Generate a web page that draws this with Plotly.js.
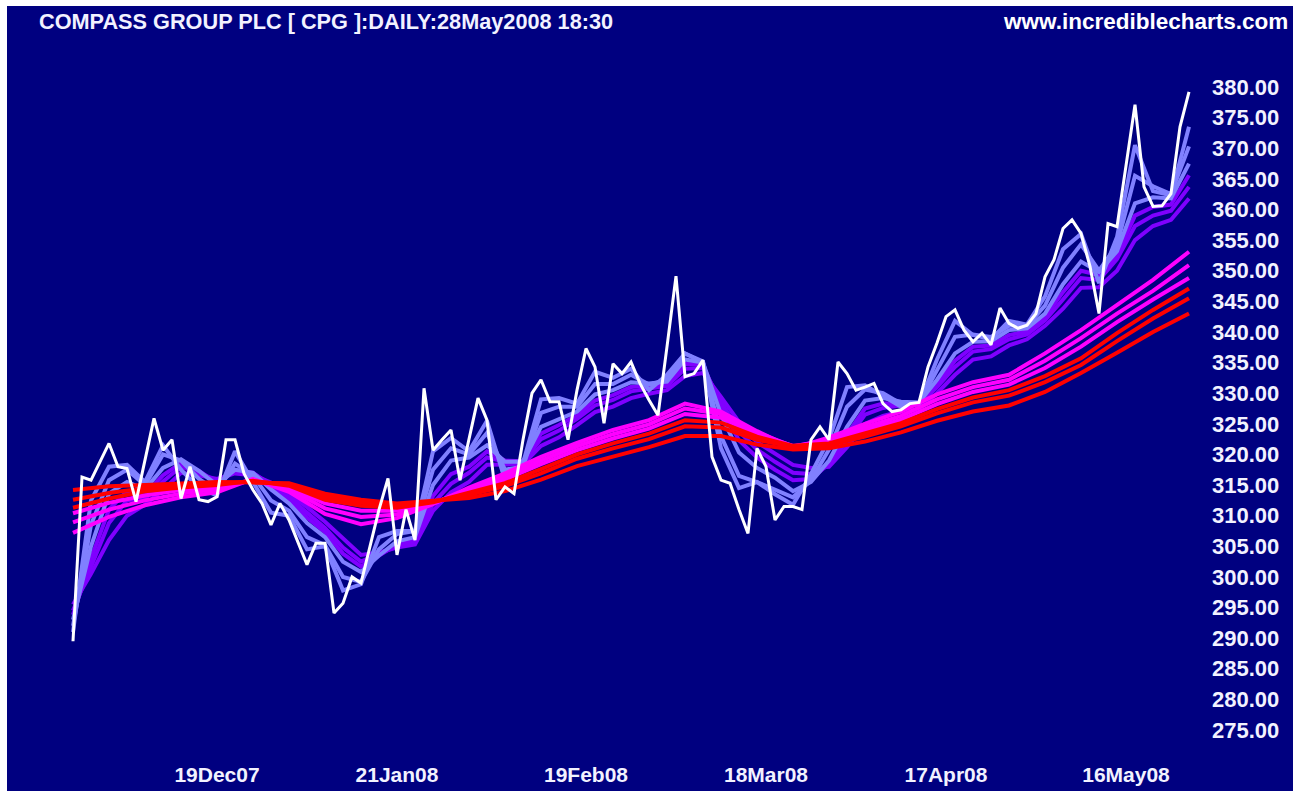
<!DOCTYPE html>
<html><head><meta charset="utf-8">
<script src="https://cdn.plot.ly/plotly-3.0.1.min.js"></script>
<style>
html,body{margin:0;padding:0;background:#ffffff;width:1293px;height:791px;overflow:hidden}
#chart{position:absolute;left:7px;top:6px;width:1286px;height:785px}
</style>
</head><body><div id="chart"></div>
<script>
// trading days shown on the chart
const dates = [
"27Nov07","28Nov07","29Nov07","30Nov07",
"03Dec07","04Dec07","05Dec07","06Dec07","07Dec07","10Dec07","11Dec07","12Dec07","13Dec07","14Dec07",
"17Dec07","18Dec07","19Dec07","20Dec07","21Dec07","24Dec07","27Dec07","28Dec07","31Dec07",
"02Jan08","03Jan08","04Jan08","07Jan08","08Jan08","09Jan08","10Jan08","11Jan08","14Jan08","15Jan08",
"16Jan08","17Jan08","18Jan08","21Jan08","22Jan08","23Jan08","24Jan08","25Jan08","28Jan08","29Jan08",
"30Jan08","31Jan08",
"01Feb08","04Feb08","05Feb08","06Feb08","07Feb08","08Feb08","11Feb08","12Feb08","13Feb08","14Feb08",
"15Feb08","18Feb08","19Feb08","20Feb08","21Feb08","22Feb08","25Feb08","26Feb08","27Feb08","28Feb08","29Feb08",
"03Mar08","04Mar08","05Mar08","06Mar08","07Mar08","10Mar08","11Mar08","12Mar08","13Mar08","14Mar08",
"17Mar08","18Mar08","19Mar08","20Mar08","25Mar08","26Mar08","27Mar08","28Mar08","31Mar08",
"01Apr08","02Apr08","03Apr08","04Apr08","07Apr08","08Apr08","09Apr08","10Apr08","11Apr08","14Apr08",
"15Apr08","16Apr08","17Apr08","18Apr08","21Apr08","22Apr08","23Apr08","24Apr08","25Apr08","28Apr08",
"29Apr08","30Apr08",
"01May08","02May08","06May08","07May08","08May08","09May08","12May08","13May08","14May08","15May08",
"16May08","19May08","20May08","21May08","22May08","23May08","27May08","28May08"
];

// closing price (white line)
const price = [
289.5,316.3,315.8,318.8,321.8,318.0,317.7,312.3,319.1,325.9,
320.7,322.4,312.8,318.0,312.6,312.3,313.1,322.4,322.4,316.9,
314.2,312.0,308.5,312.0,309.3,305.5,302.0,305.5,305.5,294.1,
295.7,300.0,299.0,305.0,311.0,316.1,303.6,311.0,306.0,330.8,
320.7,322.4,324.0,315.8,322.4,329.2,325.6,312.6,314.7,313.6,
322.4,330.0,332.2,328.6,328.6,322.4,330.5,337.3,334.3,325.1,
334.8,333.2,335.1,331.6,328.9,326.4,337.6,349.1,332.7,333.2,
335.4,319.6,315.8,315.3,311.0,307.1,321.0,318.0,309.3,311.5,
311.5,311.0,322.4,324.5,322.4,335.1,333.2,330.5,331.0,331.6,
328.3,327.0,327.3,328.3,328.5,334.3,338.2,342.5,343.6,340.3,
338.4,339.8,337.9,343.9,341.4,340.6,341.1,343.0,349.0,351.8,
356.9,358.3,356.1,350.7,343.0,357.7,357.2,367.5,377.1,363.7,
360.5,360.6,362.6,373.5,379.2
];

// days on which the short-term averages were read (every 2nd day)
const shortDays = [0,2,4,6,8,10,12,14,16,18,20,22,24,26,28,30,32,34,36,38,40,42,44,46,48,50,52,54,56,58,60,62,
                   64,66,68,70,72,74,76,78,80,82,84,86,88,90,92,94,96,98,100,102,104,106,108,110,112,114,116,118,120,122,124];
// short-term moving averages (3,5,8,10,12,15)
const ema3  = [291.0,312.5,318.0,318.3,315.5,321.5,317.5,314.5,313.3,320.5,315.5,310.5,310.0,304.5,305.0,297.8,
               298.8,306.5,307.5,307.5,320.5,322.7,320.5,325.5,315.8,318.6,329.0,329.2,328.3,333.5,332.5,334.0,
               330.5,333.0,336.5,335.0,321.0,314.5,315.5,313.5,311.8,316.8,322.5,331.0,331.3,329.5,327.8,328.2,
               335.5,341.8,339.5,338.8,341.8,341.2,345.8,353.5,356.0,348.0,355.5,370.5,363.0,362.3,373.5];
const ema5  = [292.0,308.5,315.8,317.5,315.0,320.0,319.0,316.0,314.0,318.5,316.5,312.5,310.8,306.5,305.2,300.0,
               299.2,304.5,307.0,307.5,317.5,321.0,320.0,323.5,317.5,318.0,326.8,327.8,327.8,331.5,331.5,333.0,
               331.4,332.2,336.5,335.2,323.0,316.5,315.5,314.3,313.0,315.8,320.8,327.8,330.6,330.0,328.3,328.3,
               333.8,339.2,339.6,339.2,341.0,341.0,344.3,350.5,354.3,350.0,354.2,365.5,363.8,362.5,370.3];
const ema8  = [293.0,305.0,313.6,315.5,314.3,317.8,319.2,317.3,315.0,317.5,317.0,314.3,312.0,308.8,306.5,302.5,
               300.8,303.5,305.8,306.5,315.0,319.0,319.5,321.5,318.8,318.8,324.5,325.8,327.0,329.8,330.5,331.8,
               331.6,331.9,335.5,335.0,326.5,320.3,317.8,316.2,314.0,315.5,319.0,324.5,328.8,329.2,328.6,328.5,
               332.2,336.5,338.4,338.5,340.3,340.6,343.0,347.8,351.5,349.8,353.2,361.0,362.0,361.8,367.5];
const ema10 = [293.8,303.0,311.0,314.0,313.5,316.6,318.6,317.3,315.4,317.3,317.0,314.9,312.6,309.7,307.3,303.8,
               301.7,303.5,305.3,306.0,313.2,316.8,318.0,320.5,319.0,318.9,323.4,324.8,326.4,328.8,329.7,331.0,
               331.3,331.6,334.8,334.6,327.8,322.3,319.5,317.5,315.8,316.0,318.5,323.3,327.5,328.3,328.4,328.4,
               331.5,335.3,337.6,337.8,339.5,340.1,342.5,346.5,350.0,349.3,352.6,359.0,360.4,360.8,365.6];
const ema12 = [294.5,301.5,308.8,312.5,312.8,315.6,318.0,317.0,315.7,317.2,316.9,315.2,313.0,310.5,308.0,304.8,
               302.5,303.8,305.0,305.7,312.0,315.2,317.0,319.5,318.8,318.8,322.5,323.9,325.8,328.0,328.9,330.3,
               330.8,331.2,334.0,334.1,328.6,323.8,320.8,318.8,317.0,316.8,318.2,322.3,326.5,327.6,328.0,328.1,
               331.0,334.3,336.8,337.2,338.8,339.6,341.9,345.3,348.8,348.5,351.9,357.3,359.0,359.8,363.7];
const ema15 = [295.5,300.5,306.0,310.0,311.8,314.2,317.0,316.6,316.0,316.9,316.6,315.4,313.5,311.4,309.0,306.2,
               303.6,304.0,304.8,305.3,310.8,313.8,315.5,318.3,318.3,318.4,321.4,322.8,324.8,326.9,327.8,329.2,
               329.9,330.5,332.8,333.3,329.4,325.3,322.0,320.2,318.3,317.8,318.0,321.2,325.0,326.3,327.0,327.4,
               330.0,333.0,335.5,336.0,337.8,338.8,341.0,343.8,347.2,347.3,350.0,355.0,357.3,358.3,361.8];

// days on which the long-term averages were read (every 4th day)
const longDays = [0,4,8,12,16,20,24,28,32,36,40,44,48,52,56,60,64,68,72,76,80,84,88,92,96,100,104,108,112,116,120,124];
// long-term moving averages (30,35,40,45,50,60)
const ema30 = [307.2,309.8,311.7,313.0,313.8,316.0,313.9,310.3,308.6,309.6,311.9,314.6,316.9,319.6,321.9,324.0,325.6,328.3,327.0,323.8,321.0,322.8,325.0,327.0,329.8,331.8,333.0,336.5,340.3,344.5,348.5,353.1];
const ema35 = [308.9,311.0,312.5,313.6,314.3,315.9,314.3,311.2,309.8,310.2,312.0,314.3,316.4,319.0,321.3,323.3,324.9,327.5,326.6,323.6,321.3,322.4,324.4,326.3,329.0,331.0,332.2,335.3,339.0,343.0,346.7,350.9];
const ema40 = [310.4,312.1,313.3,314.2,314.7,315.8,314.6,312.0,310.8,310.8,312.1,314.0,315.9,318.4,320.7,322.6,324.2,326.6,326.0,323.3,321.4,322.1,323.9,325.7,328.2,330.2,331.4,334.1,337.6,341.6,345.3,348.8];
const ema45 = [311.3,312.8,314.0,314.6,315.0,315.7,314.9,312.6,311.6,311.3,312.2,313.7,315.3,317.6,320.0,321.8,323.4,325.6,325.2,322.9,321.4,321.8,323.4,325.1,327.4,329.3,330.5,332.8,335.7,339.8,343.6,347.1];
const ema50 = [312.6,313.7,314.5,315.0,315.3,315.6,315.1,313.1,312.1,311.6,312.3,313.4,314.8,316.9,319.3,321.0,322.5,324.6,324.4,322.4,321.2,321.5,322.9,324.6,326.7,328.5,329.6,331.8,334.6,338.5,342.2,345.5];
const ema60 = [314.2,314.8,315.0,315.3,315.5,315.4,315.3,313.6,312.6,312.0,312.4,312.9,314.0,315.9,318.1,319.6,321.2,323.0,323.0,321.6,320.8,321.0,322.1,323.6,325.5,327.0,328.0,330.2,333.3,336.6,340.0,343.0];

const tickLabels = ["19Dec07","21Jan08","19Feb08","18Mar08","17Apr08","16May08"];
const priceTicks = [275,280,285,290,295,300,305,310,315,320,325,330,335,340,345,350,355,360,365,370,375,380];

const shortX = shortDays.map(i => dates[i]);
const longX = longDays.map(i => dates[i]);
const FONT = "Liberation Sans, Arial, Helvetica, sans-serif";
const TXT = "#f2f2ff";

function line(x, y, color, w) {
  return {x: x, y: y, type: "scatter", mode: "lines", hoverinfo: "skip",
          line: {color: color, width: w}, showlegend: false};
}
const LB = "#8080ff", PU = "#8000ff", MG = "#ff00ff", RD = "#ff0000";
const traces = [
  line(shortX, ema15, PU, 4), line(shortX, ema12, PU, 4), line(shortX, ema10, PU, 4),
  line(shortX, ema8, LB, 4), line(shortX, ema5, LB, 4), line(shortX, ema3, LB, 4),
  line(longX, ema30, MG, 4), line(longX, ema35, MG, 4), line(longX, ema40, MG, 4),
  line(longX, ema45, RD, 4), line(longX, ema50, RD, 4), line(longX, ema60, RD, 4),
  {x: dates, y: price, type: "scatter", mode: "lines", hoverinfo: "skip",
   line: {color: "#ffffff", width: 3}, showlegend: false}
];

const layout = {
  width: 1286, height: 785,
  paper_bgcolor: "#000080", plot_bgcolor: "#000080",
  margin: {l: 53, r: 85, t: 39, b: 36, pad: 0},
  showlegend: false,
  font: {family: FONT, color: TXT, size: 21, weight: 700},
  xaxis: {
    type: "category", categoryorder: "array", categoryarray: dates,
    range: [-1.444, 126.111], tickangle: 0,
    tickmode: "array", tickvals: tickLabels, ticktext: tickLabels,
    showgrid: false, zeroline: false, showline: false, ticks: "",
    ticklabelstandoff: 5,
    tickfont: {family: FONT, size: 21, color: TXT, weight: 700}
  },
  yaxis: {
    side: "right", range: [270.92, 386.86],
    tickmode: "array", tickvals: priceTicks, tickformat: ".2f",
    showgrid: false, zeroline: false, showline: false, ticks: "",
    ticklabelstandoff: 3,
    tickfont: {family: FONT, size: 22, color: TXT, weight: 700}
  },
  annotations: [
    {text: "COMPASS GROUP PLC [ CPG ]:DAILY:28May2008 18:30", xref: "paper", yref: "paper",
     x: -0.02, y: 1.0324, xanchor: "left", yanchor: "middle", showarrow: false,
     font: {family: FONT, size: 21.7, color: TXT, weight: 700}},
    {text: "www.incrediblecharts.com", xref: "paper", yref: "paper",
     x: 1.0714, y: 1.0324, xanchor: "right", yanchor: "middle", showarrow: false,
     font: {family: FONT, size: 22.5, color: "#ffffff", weight: 700}}
  ]
};
Plotly.newPlot("chart", traces, layout, {displayModeBar: false, staticPlot: true});
</script>
</body></html>
